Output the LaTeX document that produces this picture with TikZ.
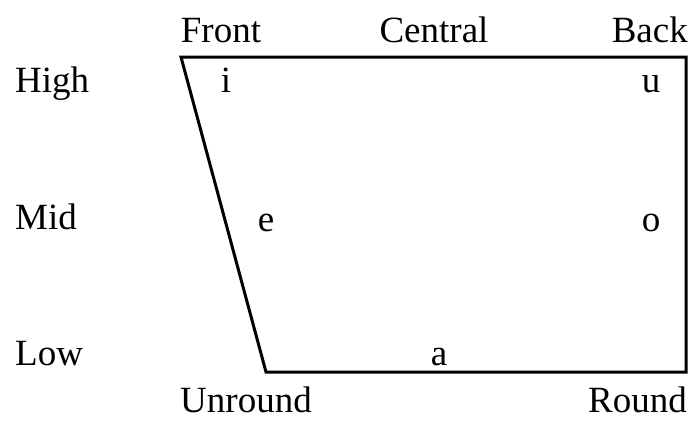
\documentclass[tikz,border=0pt]{standalone}
\usepackage{fontspec}
\setmainfont{Liberation Serif}
\begin{document}
\begin{tikzpicture}[x=1pt,y=-1pt,
    lbl/.style={inner sep=0pt, anchor=base, font=\fontsize{37}{40}\selectfont},
    vowel/.style={inner sep=0pt, anchor=base, font=\fontsize{37}{40}\selectfont}]
        \useasboundingbox (0,0) rectangle (694,421);

        % Corners of the vowel trapezoid
        \coordinate (tl) at (181,57);
        \coordinate (tr) at (686,57);
        \coordinate (br) at (686,372);
        \coordinate (bl) at (266,372);
        \draw[line width=3pt, line join=miter] (tl) -- (tr) -- (br) -- (bl) -- cycle;

        % Backness labels
        \node[lbl] (front) at (221,42) {Front};
        \node[lbl] (central) at (434,42) {Central};
        \node[lbl, anchor=base east] (back) at (688,42) {Back};

        % Height labels
        \node[lbl, anchor=base west] (high) at (15,92) {High};
        \node[lbl, anchor=base west] (mid) at (15,229) {Mid};
        \node[lbl, anchor=base west] (low) at (15,365) {Low};

        % Rounding labels
        \node[lbl] (unround) at (246,412) {Unround};
        \node[lbl, anchor=base east] (round) at (687,412) {Round};

        % Vowels
        \node[vowel] (i) at (226,92) {i};
        \node[vowel] (u) at (651,92) {u};
        \node[vowel] (e) at (266,231) {e};
        \node[vowel] (o) at (651,231) {o};
        \node[vowel] (a) at (439,365) {a};
    \end{tikzpicture}
\end{document}
